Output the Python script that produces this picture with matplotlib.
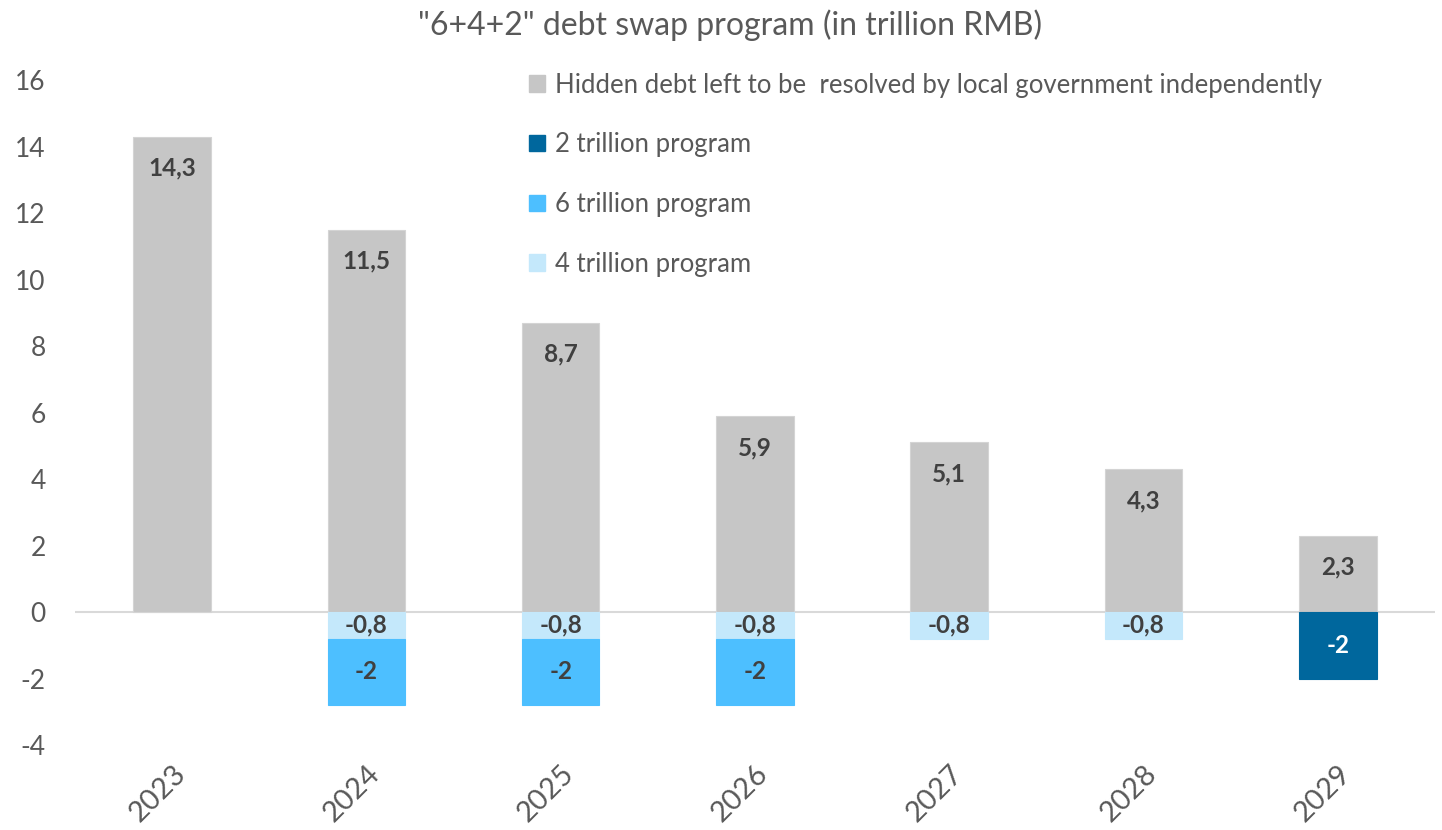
import matplotlib.pyplot as plt
import numpy as np
from matplotlib.patches import Patch

plt.rcParams["font.family"] = ["Lato", "DejaVu Sans"]
plt.rcParams["axes.unicode_minus"] = False

years = ["2023", "2024", "2025", "2026", "2027", "2028", "2029"]
hidden_debt = [14.3, 11.5, 8.7, 5.9, 5.1, 4.3, 2.3]
program_4t = [0, -0.8, -0.8, -0.8, -0.8, -0.8, 0]
program_6t = [0, -2, -2, -2, 0, 0, 0]
program_2t = [0, 0, 0, 0, 0, 0, -2]

GREY = "#C6C6C6"
LIGHT = "#C4E8FB"
MID = "#4DBFFF"
DARK = "#00679D"
TEXT = "#595959"
LABEL = "#404040"


def fmt(v):
    return f"{v:g}".replace(".", ",")


fig = plt.figure(figsize=(14.42, 8.30), dpi=100)
ax = fig.add_axes([0.052, 0.1024, 0.943, 0.8012])

x = np.arange(len(years))
width = 0.4

ax.bar(x, hidden_debt, width, color=GREY, edgecolor="#D4D4D4", linewidth=0.8)
bottom = np.zeros(len(years))
series = [(program_4t, LIGHT, LABEL), (program_6t, MID, LABEL), (program_2t, DARK, "white")]
for values, color, tcolor in series:
    vals = np.array(values, dtype=float)
    keep = vals != 0
    ax.bar(x[keep], vals[keep], width, bottom=bottom[keep], color=color,
           edgecolor=color, linewidth=0.8)
    for xi, v, b in zip(x[keep], vals[keep], bottom[keep]):
        ax.text(xi, b + v / 2, fmt(v), ha="center", va="center",
                fontsize=17.5, fontweight="bold", color=tcolor)
    bottom = bottom + vals

for xi, v in zip(x, hidden_debt):
    ax.text(xi, v - 0.95, fmt(v), ha="center", va="center",
            fontsize=17.5, fontweight="bold", color=LABEL)

ax.axhline(0, color="#D9D9D9", linewidth=1.5, zorder=0)
ax.set_ylim(-4, 16)
ax.set_xlim(-0.5, len(years) - 0.5)
ax.set_yticks(np.arange(-4, 17, 2))
ax.tick_params(axis="y", length=0, labelsize=19, labelcolor=TEXT, pad=21)
ax.set_xticks(x)
ax.set_xticklabels(years, rotation=45, ha="right", rotation_mode="anchor")
ax.tick_params(axis="x", length=0, labelsize=21, labelcolor=TEXT, pad=11)
for s in ax.spines.values():
    s.set_visible(False)

handles = [
    Patch(color=GREY, label="Hidden debt left to be  resolved by local government independently"),
    Patch(color=DARK, label="2 trillion program"),
    Patch(color=MID, label="6 trillion program"),
    Patch(color=LIGHT, label="4 trillion program"),
]
leg = ax.legend(handles=handles, loc="upper left", bbox_to_anchor=(0.317, 1.046),
                frameon=False, fontsize=18.5, labelspacing=1.35,
                handlelength=0.6, handleheight=0.6, handletextpad=0.4)
for t in leg.get_texts():
    t.set_color(TEXT)

fig.text(0.506, 0.97, "\"6+4+2\" debt swap program (in trillion RMB)",
         ha="center", va="center", fontsize=23, color=TEXT)

fig.savefig("out.png", dpi=100)
